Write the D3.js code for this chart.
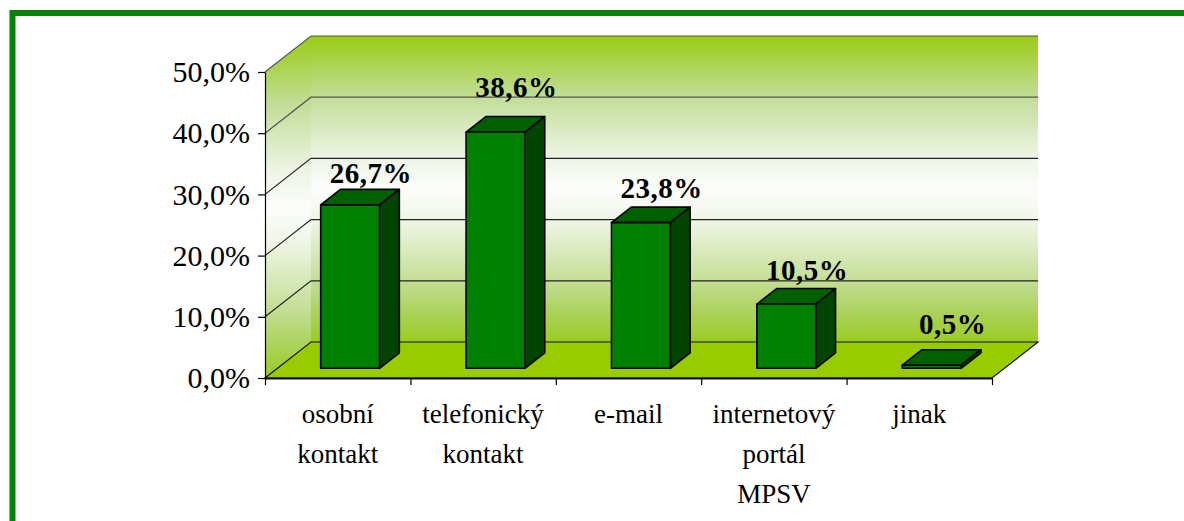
<!DOCTYPE html>
<html>
<head>
<meta charset="utf-8">
<script src="https://cdn.jsdelivr.net/npm/d3@7"></script>
<style>
    body { margin: 0; background: #fff; }
    svg { display: block; }
</style>
</head>
<body>
<svg id="chart" width="1184" height="521"></svg>
<script>
// data
var categories = [["osobní", "kontakt"], ["telefonický", "kontakt"], ["e-mail"], ["internetový", "portál", "MPSV"], ["jinak"]];
var values = [26.7, 38.6, 23.8, 10.5, 0.5];
var yTicks = [0, 10, 20, 30, 40, 50];

(function () {
    "use strict";

    var plot = {left: 265, right: 992, top: 72, bottom: 378}
      , depth = {dx: 46, dy: 36}       // 3D offset of the back wall
      , zFront = 0.27, zBack = 0.70     // bar depth inside the floor
      , barFrac = 0.405
      , labelLift = [6, 20, 9, 9, 16]   // Excel puts the value labels a bit unevenly
      , serif = "'Liberation Serif', 'Times New Roman', Times, 'DejaVu Serif', serif"
      , fmt = function (v) { return d3.format(".1f")(v).replace(".", ",") + "%"; }
      ;

    var svg = d3.select("#chart");

    var x = d3.scaleBand().domain(d3.range(categories.length)).range([plot.left, plot.right]).padding(0);
    var xEdge = d3.scaleLinear().domain([0, categories.length]).range([plot.left, plot.right]);
    var y = d3.scaleLinear().domain([0, 50]).range([plot.bottom, plot.top]);

    function proj(px, v, z) {
        return [px + z * depth.dx, y(v) - z * depth.dy];
    }
    function poly(pts) {
        return "M" + pts.map(function (p) { return p[0] + "," + p[1]; }).join("L") + "Z";
    }

    //------------------------------------------------------------
    // gradient for the walls

    var defs = svg.append("defs");
    var grad = defs.append("linearGradient")
        .attr("id", "wallGrad")
        .attr("x1", 0).attr("y1", 0).attr("x2", 0).attr("y2", 1);
    [[0, "#99cc14"], [0.2, "#c2dd98"], [0.4, "#eef5e6"], [0.5, "#fcfdfb"],
     [0.6, "#f0f6e8"], [0.8, "#c4de94"], [0.9, "#acd25c"], [1, "#9acc22"]]
        .forEach(function (s) {
            grad.append("stop").attr("offset", s[0]).attr("stop-color", s[1]);
        });

    // outer green frame
    svg.append("rect")
        .attr("x", 12.5).attr("y", 13)
        .attr("width", 1300).attr("height", 700)
        .attr("fill", "#fff")
        .attr("stroke", "#078007")
        .attr("stroke-width", 6);

    var g = svg.append("g");

    // back wall
    g.append("path")
        .attr("d", poly([proj(plot.left, 0, 1), proj(plot.left, 50, 1), proj(plot.right, 50, 1), proj(plot.right, 0, 1)]))
        .attr("fill", "url(#wallGrad)");

    // side wall
    g.append("path")
        .attr("d", poly([proj(plot.left, 0, 0), proj(plot.left, 50, 0), proj(plot.left, 50, 1), proj(plot.left, 0, 1)]))
        .attr("fill", "url(#wallGrad)");

    // gridlines on both walls
    g.selectAll(".grid")
        .data(yTicks.filter(function (d) { return d > 0; }))
        .enter().append("path")
        .attr("class", "grid")
        .attr("d", function (d) {
            var a = proj(plot.left, d, 0), b = proj(plot.left, d, 1), c = proj(plot.right, d, 1);
            return "M" + a + "L" + b + "L" + c;
        })
        .attr("fill", "none")
        .attr("stroke", function (d) { return d >= 40 ? "#555" : "#222"; })
        .attr("stroke-width", 1.2);

    // floor
    g.append("path")
        .attr("d", poly([proj(plot.left, 0, 0), proj(plot.left, 0, 1), proj(plot.right, 0, 1), proj(plot.right, 0, 0)]))
        .attr("fill", "#99cc00")
        .attr("stroke", "#111")
        .attr("stroke-width", 1.2);

    //------------------------------------------------------------
    // bars

    var bw = x.bandwidth() * barFrac;
    var bars = g.selectAll(".bar")
        .data(values)
        .enter().append("g")
        .attr("class", "bar");

    function x0(i) { return x(i) + (x.bandwidth() - bw) / 2; }

    bars.append("path")   // top
        .attr("d", function (d, i) {
            return poly([proj(x0(i), d, zFront), proj(x0(i), d, zBack), proj(x0(i) + bw, d, zBack), proj(x0(i) + bw, d, zFront)]);
        })
        .attr("fill", "#006000");

    bars.append("path")   // side
        .attr("d", function (d, i) {
            var r = x0(i) + bw;
            return poly([proj(r, 0, zFront), proj(r, d, zFront), proj(r, d, zBack), proj(r, 0, zBack)]);
        })
        .attr("fill", "#004400");

    bars.append("path")   // front
        .attr("d", function (d, i) {
            return poly([proj(x0(i), 0, zFront), proj(x0(i), d, zFront), proj(x0(i) + bw, d, zFront), proj(x0(i) + bw, 0, zFront)]);
        })
        .attr("fill", "#008000");

    bars.selectAll("path")
        .attr("stroke", "#000")
        .attr("stroke-width", 1.6)
        .attr("stroke-linejoin", "round");

    // value labels
    g.selectAll(".value")
        .data(values)
        .enter().append("text")
        .attr("class", "value")
        .attr("text-anchor", "middle")
        .style("font-family", serif)
        .style("font-weight", "bold")
        .style("font-size", "29px")
        .style("letter-spacing", "0.5px")
        .attr("fill", "#000")
        .attr("x", function (d, i) { return proj(x0(i) + bw / 2, d, zBack)[0] + 1; })
        .attr("y", function (d, i) { return proj(0, d, zBack)[1] - labelLift[i]; })
        .text(fmt);

    //------------------------------------------------------------
    // axes

    var yAxis = svg.append("g")
        .attr("transform", "translate(" + plot.left + ",0)")
        .call(d3.axisLeft(y).tickValues(yTicks).tickSize(7).tickSizeOuter(0).tickPadding(8).tickFormat(fmt));
    yAxis.select(".domain").attr("stroke", "#000").attr("stroke-width", 1.2);
    yAxis.selectAll(".tick line").attr("stroke", "#000").attr("stroke-width", 1.2);
    yAxis.selectAll(".tick text")
        .style("font-family", serif)
        .style("font-size", "30px")
        .attr("fill", "#000");

    var xAxis = svg.append("g")
        .attr("transform", "translate(0," + plot.bottom + ")")
        .call(d3.axisBottom(xEdge).tickValues(d3.range(categories.length + 1)).tickSize(7).tickSizeOuter(0).tickFormat(""));
    xAxis.select(".domain").attr("stroke", "#111").attr("stroke-width", 2);
    xAxis.selectAll(".tick line").attr("stroke", "#000").attr("stroke-width", 1.2);

    // category labels
    var cat = svg.selectAll(".cat")
        .data(categories)
        .enter().append("text")
        .attr("class", "cat")
        .attr("text-anchor", "middle")
        .style("font-family", serif)
        .style("font-size", "27px")
        .attr("fill", "#000")
        .attr("x", function (d, i) { return x(i) + x.bandwidth() / 2; })
        .attr("y", 423);

    cat.selectAll("tspan")
        .data(function (d) { return d; })
        .enter().append("tspan")
        .attr("x", function () { return d3.select(this.parentNode).attr("x"); })
        .attr("dy", function (d, j) { return j === 0 ? 0 : 40; })
        .text(function (d) { return d; });
})();
</script>
</body>
</html>
